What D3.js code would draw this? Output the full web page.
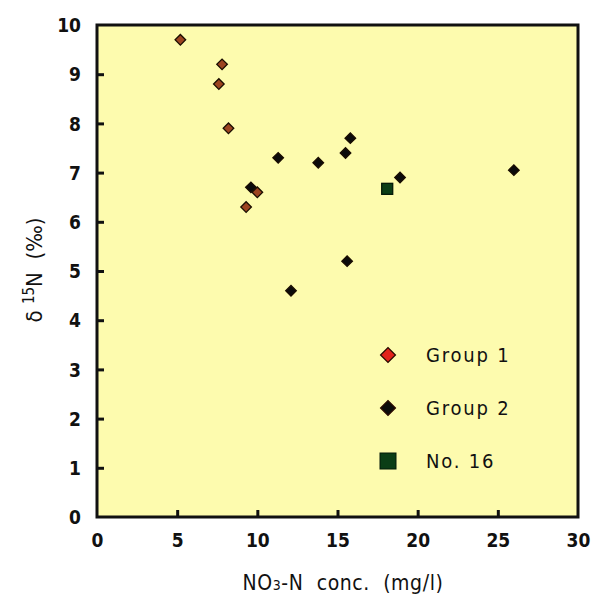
<!DOCTYPE html>
<html>
<head>
<meta charset="utf-8">
<script src="https://cdn.jsdelivr.net/npm/d3@7"></script>
<style>
  body { margin: 0; background: #fff; }
  svg text { font-family: "DejaVu Sans Condensed", "DejaVu Sans", sans-serif; fill: #111; }
</style>
</head>
<body>
<div id="chart"></div>
<script>
// values
var group1X = [5.2, 7.8, 7.6, 8.2, 9.3, 10.0];
var group1Y = [9.7, 9.2, 8.8, 7.9, 6.3, 6.6];
var group2X = [9.6, 11.3, 13.8, 15.5, 15.8, 18.9, 15.6, 12.1, 26.0];
var group2Y = [6.7, 7.3, 7.2, 7.4, 7.7, 6.9, 5.2, 4.6, 7.05];
var no16X = [18.1];
var no16Y = [6.67];
var xTicks = [0, 5, 10, 15, 20, 25, 30];
var yTicks = [0, 1, 2, 3, 4, 5, 6, 7, 8, 9, 10];
var legendLabels = ["Group 1", "Group 2", "No. 16"];

var W = 593, H = 601;
var margin = { top: 25, right: 15, bottom: 84, left: 97 };
var width = W - margin.left - margin.right;
var height = H - margin.top - margin.bottom;

var svg = d3.select("#chart").append("svg")
  .attr("width", W)
  .attr("height", H);

var g = svg.append("g")
  .attr("transform", `translate(${margin.left},${margin.top})`);

var x = d3.scaleLinear().domain([0, 30]).range([0, width]);
var y = d3.scaleLinear().domain([0, 10]).range([height, 0]);

// plot background
g.append("rect")
  .attr("width", width)
  .attr("height", height)
  .attr("fill", "#fdfbae");

// axes, ticks point inward
var xAxis = g.append("g")
  .attr("transform", `translate(0,${height})`)
  .call(d3.axisBottom(x).tickValues(xTicks).tickSize(-7).tickPadding(17).tickFormat(d3.format("d")));
var yAxis = g.append("g")
  .call(d3.axisLeft(y).tickValues(yTicks).tickSize(-7).tickPadding(16).tickFormat(d3.format("d")));

[xAxis, yAxis].forEach(function (a) {
  a.select(".domain").remove();
  a.selectAll(".tick line").attr("stroke", "#111").attr("stroke-width", 3);
  a.selectAll(".tick text").style("font-size", "19px").style("font-weight", "bold").attr("fill", "#222");
});
xAxis.selectAll(".tick").filter(function (d) { return d === 0 || d === 30; }).select("line").remove();
yAxis.selectAll(".tick").filter(function (d) { return d === 0 || d === 10; }).select("line").remove();
yAxis.selectAll(".tick text").attr("dy", "0.35em");

// frame
g.append("rect")
  .attr("width", width)
  .attr("height", height)
  .attr("fill", "none")
  .attr("stroke", "#111")
  .attr("stroke-width", 3);

var diamond = d3.symbol().type(d3.symbolSquare);

function diamonds(xs, ys, fill, size) {
  g.selectAll(null)
    .data(xs.map(function (v, i) { return [v, ys[i]]; }))
    .enter()
    .append("path")
      .attr("d", diamond.size(size)())
      .attr("transform", function (d) { return `translate(${x(d[0])},${y(d[1])}) rotate(45)`; })
      .attr("fill", fill)
      .attr("stroke", "#1a0d00")
      .attr("stroke-width", 1.3);
}

diamonds(group2X, group2Y, "#0b0b0b", 56);
diamonds(group1X, group1Y, "#9c4420", 56);

g.selectAll(null)
  .data(no16X.map(function (v, i) { return [v, no16Y[i]]; }))
  .enter()
  .append("rect")
    .attr("x", function (d) { return x(d[0]) - 5.5; })
    .attr("y", function (d) { return y(d[1]) - 5.5; })
    .attr("width", 11)
    .attr("height", 11)
    .attr("fill", "#0b3d16")
    .attr("stroke", "#051a08")
    .attr("stroke-width", 1.3);

// legend
var legend = g.append("g").attr("transform", `translate(${388 - margin.left},${355 - margin.top})`);
legendLabels.forEach(function (lab, i) {
  var row = legend.append("g").attr("transform", `translate(0,${i * 53})`);
  if (i < 2) {
    row.append("path")
      .attr("d", d3.symbol().type(d3.symbolSquare).size(110)())
      .attr("transform", "rotate(45)")
      .attr("fill", i === 0 ? "#e2231a" : "#0b0b0b")
      .attr("stroke", "#2a0a00")
      .attr("stroke-width", 1.3);
  } else {
    row.append("rect")
      .attr("x", -8).attr("y", -8)
      .attr("width", 16).attr("height", 16)
      .attr("fill", "#0b3d16")
      .attr("stroke", "#051a08")
      .attr("stroke-width", 1);
  }
  row.append("text")
    .attr("x", 38)
    .attr("dy", "0.35em")
    .style("font-size", "20px")
    .style("letter-spacing", "1.8px")
    .text(lab);
});

// axis titles
var xt = svg.append("text")
  .attr("x", 343)
  .attr("y", 590)
  .attr("text-anchor", "middle")
  .style("font-size", "21px")
  .style("letter-spacing", "0.6px")
  .attr("fill", "#222")
  .attr("xml:space", "preserve");
xt.append("tspan").text("NO");
xt.append("tspan").style("font-size", "14px").text("3");
xt.append("tspan").text("-N  conc.  (mg/l)");

var yt = svg.append("text")
  .attr("transform", "translate(42,270) rotate(-90)")
  .attr("text-anchor", "middle")
  .style("font-size", "22px")
  .attr("fill", "#222")
  .attr("xml:space", "preserve");
yt.append("tspan").text("δ ");
yt.append("tspan").attr("dy", "-8").style("font-size", "15px").text("15");
yt.append("tspan").attr("dy", "8").text("N  (‰)");
</script>
</body>
</html>
